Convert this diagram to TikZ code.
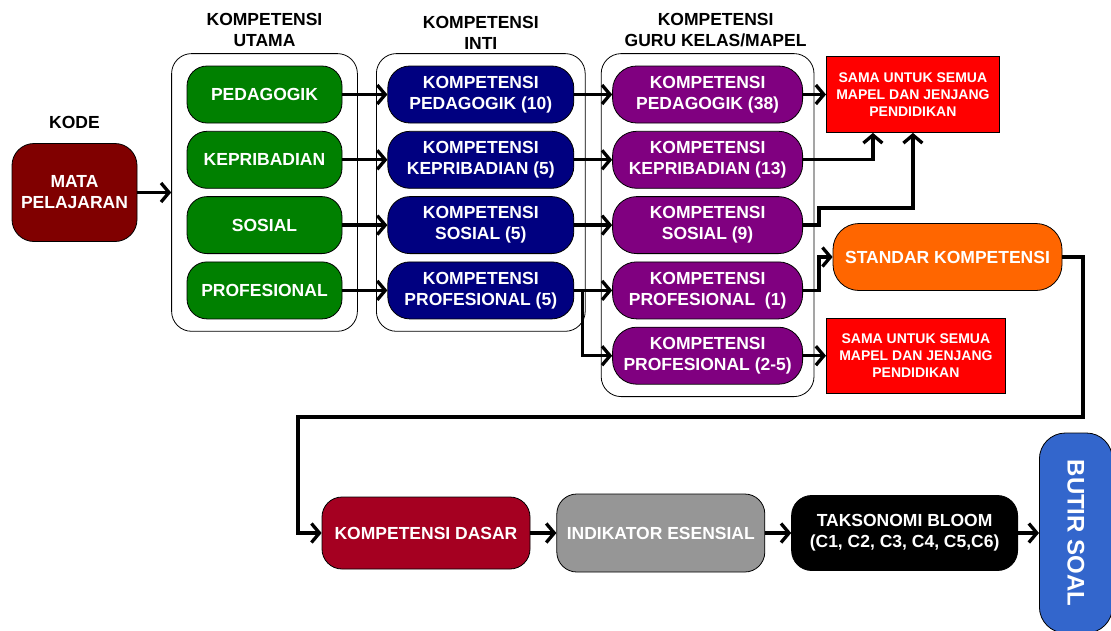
\documentclass[tikz,border=0pt]{standalone}
\usepackage{fontspec}
\setmainfont{Liberation Sans}
\usetikzlibrary{positioning, fit, calc, arrows.meta}
\definecolor{mapelred}{HTML}{800000}
\definecolor{utamagreen}{HTML}{008000}
\definecolor{intiblue}{HTML}{000080}
\definecolor{gurupurple}{HTML}{800080}
\definecolor{skorange}{HTML}{FF6600}
\definecolor{kdred}{HTML}{A50021}
\definecolor{iegray}{HTML}{969696}
\definecolor{soalblue}{HTML}{3366CC}
\tikzset{block/.style={draw, line width=0.8pt, rounded corners=20pt, text=white, align=center, inner sep=2pt, font=\bfseries\fontsize{17.5}{21}\selectfont},
utama/.style={block, fill=utamagreen, minimum width=155pt, minimum height=57pt},
inti/.style={block, fill=intiblue, minimum width=186pt, minimum height=57pt, rounded corners=22pt},
guru/.style={block, fill=gurupurple, minimum width=190pt, minimum height=57pt, rounded corners=24pt},
sama/.style={draw, line width=0.8pt, fill=red, text=white, align=center, inner sep=2pt, font=\bfseries\fontsize{14}{17}\selectfont, minimum width=173pt, minimum height=76pt},
group/.style={draw, line width=0.8pt, rounded corners=20pt, inner ysep=12pt},
title/.style={align=center, inner sep=0pt, font=\bfseries\fontsize{17.5}{21}\selectfont},
line/.style={-{Straight Barb[length=8pt,width=19pt]}, line width=3.3pt}
}

\begin{document}
\begin{tikzpicture}[x=1pt, y=-1pt, node distance=7.5pt]
\fill[white] (0,0) rectangle (1111,630);
\useasboundingbox (0,0) rectangle (1111,630);

% kode
\node[block, fill=mapelred, minimum width=125pt, minimum height=98pt, rounded corners=22pt] (Mata) at (74.5,192.5) {MATA\\PELAJARAN};
\node[title, above=14pt of Mata] (Kode) {KODE};

% kompetensi utama
\node[utama] (Utama 1) at (264.5,94.5) {PEDAGOGIK};
\node[utama, below=of Utama 1] (Utama 2) {KEPRIBADIAN};
\node[utama, below=of Utama 2] (Utama 3) {SOSIAL};
\node[utama, below=of Utama 3] (Utama 4) {PROFESIONAL};

% kompetensi inti
\node[inti, right=45pt of Utama 1] (Inti 1) {KOMPETENSI\\PEDAGOGIK (10)};
\node[inti, below=of Inti 1] (Inti 2) {KOMPETENSI\\KEPRIBADIAN (5)};
\node[inti, below=of Inti 2] (Inti 3) {KOMPETENSI\\SOSIAL (5)};
\node[inti, below=of Inti 3] (Inti 4) {KOMPETENSI\\PROFESIONAL (5)};

% kompetensi guru
\node[guru, right=38pt of Inti 1] (Guru 1) {KOMPETENSI\\PEDAGOGIK (38)};
\node[guru, below=of Guru 1] (Guru 2) {KOMPETENSI\\KEPRIBADIAN (13)};
\node[guru, below=of Guru 2] (Guru 3) {KOMPETENSI\\SOSIAL (9)};
\node[guru, below=of Guru 3] (Guru 4) {KOMPETENSI\\PROFESIONAL\ \ (1)};
\node[guru, below=of Guru 4] (Guru 5) {KOMPETENSI\\PROFESIONAL (2-5)};

\node[group, inner xsep=15pt, fit=(Utama 1) (Utama 4)] (Group 1) {};
\node[group, inner xsep=11pt, fit=(Inti 1) (Inti 4)] (Group 2) {};
\node[group, inner xsep=11pt, fit=(Guru 1) (Guru 5)] (Group 3) {};
\node[title, above=6pt of Group 1] (Title 1) {KOMPETENSI\\UTAMA};
\node[title, above=4pt of Group 2] (Title 2) {KOMPETENSI\\INTI};
\node[title, above=6pt of Group 3, xshift=8pt] (Title 3) {KOMPETENSI\\GURU KELAS/MAPEL};

\node[sama, right=23pt of Guru 1] (Sama 1) {SAMA UNTUK SEMUA\\MAPEL DAN JENJANG\\PENDIDIKAN};
\node[sama, minimum width=179pt, minimum height=75pt, right=23pt of Guru 5] (Sama 2) {SAMA UNTUK SEMUA\\MAPEL DAN JENJANG\\PENDIDIKAN};
\node[block, fill=skorange, minimum width=229pt, minimum height=67pt, rounded corners=26pt] (Standar) at (947.5,257) {STANDAR KOMPETENSI};

% baris bawah
\node[block, fill=kdred, minimum width=208pt, minimum height=72pt] (Dasar) at (426,533) {KOMPETENSI DASAR};
\node[block, fill=iegray, minimum width=208pt, minimum height=78pt, right=26pt of Dasar] (Indikator) {INDIKATOR ESENSIAL};
\node[block, fill=black, minimum width=226pt, minimum height=75pt, right=26pt of Indikator] (Bloom) {TAKSONOMI BLOOM\\(C1, C2, C3, C4, C5,C6)};
\node[block, fill=soalblue, minimum width=73pt, minimum height=200pt, rounded corners=26pt, right=21pt of Bloom, font=\bfseries\fontsize{24}{28}\selectfont] (Soal) {\rotatebox{-90}{BUTIR SOAL}};

\draw[line] (Mata) -- (Mata -| Group 1.west);
\draw[line] (Utama 1) -- (Inti 1);
\draw[line] (Utama 2) -- (Inti 2);
\draw[line] (Utama 3) -- (Inti 3);
\draw[line] (Utama 4) -- (Inti 4);
\draw[line] (Inti 1) -- (Guru 1);
\draw[line] (Inti 2) -- (Guru 2);
\draw[line] (Inti 3) -- (Guru 3);
\draw[line] (Inti 4) -- (Guru 4);
\draw[line] ([xshift=8pt]Inti 4.east) |- (Guru 5);
\draw[line] (Guru 1) -- (Sama 1);
\draw[line] (Guru 2) -| ([xshift=-40pt]Sama 1.south);
\draw[line] (Guru 3.east) -- ++(16pt,0) -- ++(0,17pt) -| (Sama 1.south);
\draw[line] (Guru 4.east) -- ++(16pt,0) |- (Standar);
\draw[line] (Guru 5) -- (Sama 2);
\coordinate (Turn 1) at (1083,417);
\coordinate (Turn 2) at (298,417);
\draw[line] (Standar) -| (Turn 1) -- (Turn 2) |- (Dasar);
\draw[line] (Dasar) -- (Indikator);
\draw[line] (Indikator) -- (Bloom);
\draw[line] (Bloom) -- (Soal);
\end{tikzpicture}
\end{document}
